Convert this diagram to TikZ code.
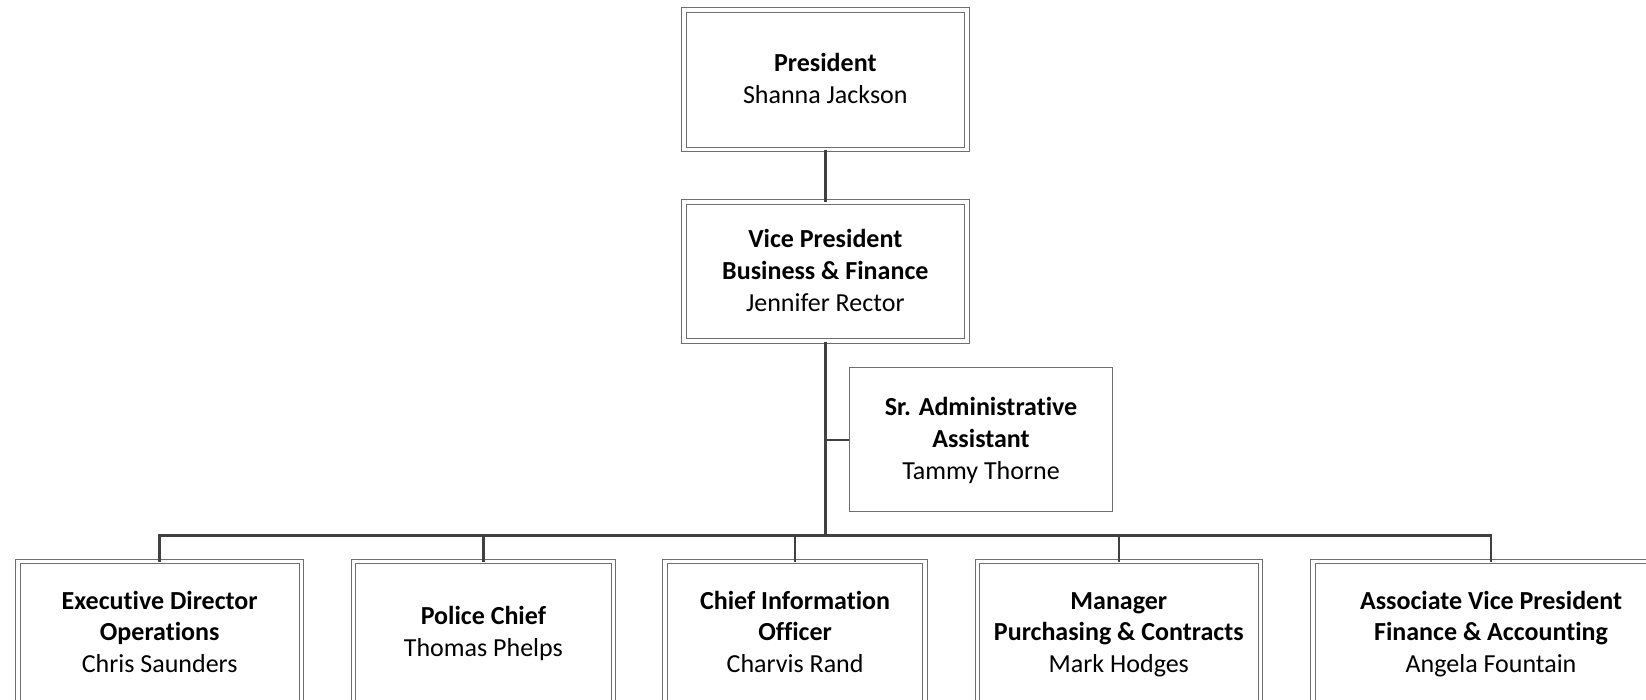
\documentclass[tikz,border=0pt]{standalone}
\usepackage{fontspec}
\setmainfont{Carlito}[Ligatures={NoCommon,NoRare}]
\definecolor{boxgray}{HTML}{6E6E6E}
\definecolor{linegray}{HTML}{404040}
\newcommand\lstrut{\rule[-7.5pt]{0pt}{31pt}}
\begin{document}
\begin{tikzpicture}[x=1pt,y=-1pt,
  txt/.style={align=center, inner sep=0pt, font=\fontsize{26}{31.7}\selectfont},
  dblbox/.style={txt, draw=boxgray, double=white, line width=1pt, double distance=3.5pt},
  dbl/.style={draw=boxgray, double=white, line width=1pt, double distance=3.5pt},
  sglbox/.style={txt, draw=boxgray, line width=1pt},
  conn/.style={draw=linegray, line width=2.6pt},
  connthick/.style={draw=linegray, line width=3.6pt},
  connthin/.style={draw=linegray, line width=2pt}]
\useasboundingbox (0,0) rectangle (1646,700);
\clip (0,0) rectangle (1646,700);

% top boxes
\node[dblbox, minimum width=283pt, minimum height=139.5pt] (pres) at (825.3,79.6)
  {\lstrut\textbf{President}\\\lstrut Shanna Jackson};
\node[dblbox, minimum width=283pt, minimum height=138.9pt] (vp) at (825.3,271.6)
  {\lstrut\textbf{Vice President}\\\lstrut\textbf{Business \& Finance}\\\lstrut Jennifer Rector};
\node[sglbox, minimum width=263.4pt, minimum height=144pt] (sa) at (981,439.5)
  {\lstrut\textbf{Sr. Administrative}\\\lstrut\textbf{Assistant}\\\lstrut Tammy Thorne};

% bottom boxes (text nodes, borders extend below the picture)
\node[txt, minimum width=283pt, minimum height=142.2pt] (ed) at (159.7,632.8)
  {\lstrut\textbf{Executive Director}\\\lstrut\textbf{Operations}\\\lstrut Chris Saunders};
\node[txt, minimum width=259.9pt, minimum height=142.2pt] (pc) at (483.4,632.8)
  {\lstrut\textbf{Police Chief}\\\lstrut Thomas Phelps};
\node[txt, minimum width=259.8pt, minimum height=142.2pt] (cio) at (795.1,632.8)
  {\lstrut\textbf{Chief Information}\\\lstrut\textbf{Officer}\\\lstrut Charvis Rand};
\node[txt, minimum width=282.5pt, minimum height=142.2pt] (mgr) at (1118.8,632.8)
  {\lstrut\textbf{Manager}\\\lstrut\textbf{Purchasing \& Contracts}\\\lstrut Mark Hodges};
\node[txt, minimum width=355.6pt, minimum height=142.2pt] (avp) at (1491,632.8)
  {\lstrut\textbf{Associate Vice President}\\\lstrut\textbf{Finance \& Accounting}\\\lstrut Angela Fountain};

\foreach \n in {ed,pc,cio,mgr,avp}{
  \draw[dbl] ([yshift=-30pt]\n.south west) |- (\n.north east) -- ([yshift=-30pt]\n.south east);
}

% connectors
\coordinate (hub) at (825.3,535.7);
\draw[conn] (pres.south) -- (vp.north);
\draw[connthin] (vp.south |- sa.west) -- (sa.west);
\draw[conn] (ed.north) -- (ed.north |- hub) -- (avp.north |- hub) -- (avp.north);
\draw[conn] (pc.north) -- (pc.north |- hub);
\draw[conn] (cio.north) -- (cio.north |- hub);
\draw[conn] (mgr.north) -- (mgr.north |- hub);
\draw[connthick] (vp.south) -- (hub);
\end{tikzpicture}
\end{document}
